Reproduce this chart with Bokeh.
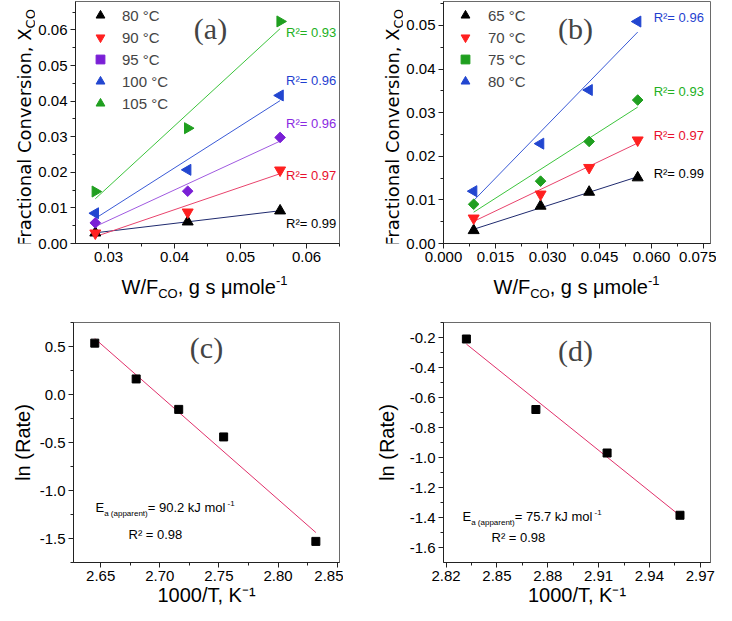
import numpy as np
from math import pi
from bokeh.plotting import figure
from bokeh.models import (Range1d, Label, Legend, LegendItem,
                          SingleIntervalTicker, NumeralTickFormatter)
from bokeh.layouts import row, column
from bokeh.embed import file_html
from bokeh.resources import INLINE

# ---------------- data ----------------
# panel (a)
wf_a = [0.028, 0.042, 0.056]
temps_a = ["80 °C", "90 °C", "95 °C", "100 °C", "105 °C"]
xco_a_80 = [0.0030, 0.0061, 0.0092]
xco_a_90 = [0.0029, 0.0088, 0.0206]
xco_a_95 = [0.0058, 0.0147, 0.0298]
xco_a_100 = [0.0085, 0.0207, 0.0416]
xco_a_105 = [0.0146, 0.0324, 0.0624]
r2_a = ["0.99", "0.97", "0.96", "0.96", "0.93"]

# panel (b)
wf_b = [0.0087, 0.028, 0.042, 0.056]
temps_b = ["65 °C", "70 °C", "75 °C", "80 °C"]
xco_b_65 = [0.0030, 0.0086, 0.0118, 0.0151]
xco_b_70 = [0.0058, 0.0113, 0.0174, 0.0237]
xco_b_75 = [0.0090, 0.0143, 0.0234, 0.0329]
xco_b_80 = [0.0120, 0.0229, 0.0352, 0.0509]
r2_b = ["0.99", "0.97", "0.93", "0.96"]

# panel (c)
inv_t_c = [2.645, 2.680, 2.716, 2.754, 2.832]
ln_rate_c = [0.535, 0.162, -0.155, -0.442, -1.530]
ea_c = "90.2"
r2_c = "0.98"

# panel (d)
inv_t_d = [2.832, 2.873, 2.915, 2.958]
ln_rate_d = [-0.21, -0.68, -0.97, -1.385]
ea_d = "75.7"
r2_d = "0.98"

# axis titles
ylab_main = "Fractional Conversion, X"
ysub = "CO"
xlab_rate = "1000/T, K⁻¹"
ylab_rate = "ln (Rate)"

# ---------------- styles ----------------
FONT = "Liberation Sans"
VFONT = "DejaVu Sans"      # font used for the rotated title pieces
SERIF = "Liberation Serif"
MID = 0.3465  # baseline lies this many em below the middle of the em box

mk_a = [("triangle", 0.0, 11), ("inverted_triangle", 0.0, 11), ("square", pi / 4, 7.5),
        ("triangle", pi / 2, 11), ("triangle", -pi / 2, 11)]
mcol_a = ["#000000", "#ff2020", "#7a1fd6", "#2246d0", "#1f9f1f"]
lcol_a = ["#1f2a6e", "#e8436c", "#a05ae0", "#3a5ad6", "#3cc43c"]
tcol_a = ["#000000", "#e8102e", "#8a2be2", "#1f3fd0", "#22b022"]
r2pos_a = [(0.0569, 0.0055), (0.0569, 0.0190), (0.0569, 0.0337),
           (0.0569, 0.0457), (0.0569, 0.0592)]

mk_b = [("triangle", 0.0, 11), ("inverted_triangle", 0.0, 11), ("square", pi / 4, 7.5),
        ("triangle", pi / 2, 11)]
mcol_b = ["#000000", "#ff2020", "#1f9f1f", "#2246d0"]
lcol_b = ["#1f2a6e", "#e8436c", "#3cc43c", "#3a5ad6"]
tcol_b = ["#000000", "#e8102e", "#22b022", "#1f3fd0"]
r2pos_b = [(0.0606, 0.0161), (0.0606, 0.0247), (0.0606, 0.0349), (0.0606, 0.0518)]

FIT_CD = "#e0306a"

# Arial / Liberation Sans advance widths (1/1000 em)
AW = {' ': 278, '(': 333, ')': 333, ',': 278, '-': 333, '.': 278, '/': 278, '=': 584,
      'A': 667, 'C': 722, 'E': 667, 'F': 611, 'J': 500, 'K': 667, 'O': 778, 'R': 722,
      'T': 611, 'W': 944, 'X': 667, 'a': 556, 'c': 500, 'd': 556, 'e': 556, 'g': 556,
      'i': 222, 'k': 500, 'l': 222, 'm': 833, 'n': 556, 'o': 556, 'p': 556, 'r': 333,
      's': 500, 't': 278, 'v': 500, 'μ': 576, '²': 333, '¹': 333, '°': 400}
for d in "0123456789":
    AW[d] = 556


def tw(s, fs):
    return sum(AW.get(ch, 556) for ch in s) * fs / 1000.0


def lab(p, text, x, y, fs, align="left", angle=0.0, units="screen", color="black",
        font=FONT):
    p.add_layout(Label(x=x, y=y, x_units=units, y_units=units, text=text, angle=angle,
                       text_align=align, text_baseline="middle", text_font=font,
                       text_font_size=f"{fs}px", text_color=color))


def rich(p, pieces, a, c, center=True, units="screen"):
    """Horizontal run of pieces (text, font px, baseline shift, extra advance).
    a = x of start (or centre), c = baseline y (y up)."""
    total = sum(tw(t, fs) + dx for t, fs, _, dx in pieces)
    pos = a - total / 2 if center else a
    for t, fs, sh, dx in pieces:
        pos += dx
        lab(p, t, pos, c + sh + MID * fs, fs, units=units)
        pos += tw(t, fs)


def make_fig(w, h, bl, br, bt, bb, xr, yr):
    p = figure(width=w, height=h, x_range=Range1d(*xr), y_range=Range1d(*yr),
               output_backend="svg", toolbar_location=None,
               min_border_left=bl, min_border_right=br,
               min_border_top=bt, min_border_bottom=bb)
    p.xgrid.visible = False
    p.ygrid.visible = False
    p.outline_line_color = "#6a6a6a"
    p.outline_line_width = 1
    p.background_fill_color = "white"
    p.border_fill_color = "white"
    for ax in (p.xaxis[0], p.yaxis[0]):
        ax.major_tick_in = 0
        ax.major_tick_out = 5
        ax.minor_tick_in = 0
        ax.minor_tick_out = 3
        ax.axis_line_color = "#222222"
        ax.major_tick_line_color = "#222222"
        ax.minor_tick_line_color = "#222222"
        ax.major_label_text_font = FONT
        ax.major_label_text_font_size = "15px"
        ax.major_label_text_color = "black"
        ax.major_label_standoff = 3
        ax.axis_label_text_font = FONT
        ax.axis_label_text_font_size = "20px"
        ax.axis_label_text_font_style = "normal"
        ax.axis_label_text_color = "black"
    return p


def strip(w, h):
    """Axis-free text strip: the frame is the whole figure, 1 data unit = 1 px."""
    s = figure(width=w, height=h, x_range=Range1d(0, w), y_range=Range1d(0, h),
               output_backend="svg", toolbar_location=None, min_border=0,
               x_axis_location=None, y_axis_location=None)
    s.xgrid.visible = False
    s.ygrid.visible = False
    s.outline_line_color = None
    s.background_fill_color = "white"
    s.border_fill_color = "white"
    return s


def set_ticks(p, xint, xfmt, yint, yfmt, xminor=2, yminor=2):
    p.xaxis.ticker = SingleIntervalTicker(interval=xint, num_minor_ticks=xminor)
    p.yaxis.ticker = SingleIntervalTicker(interval=yint, num_minor_ticks=yminor)
    p.xaxis.formatter = NumeralTickFormatter(format=xfmt)
    p.yaxis.formatter = NumeralTickFormatter(format=yfmt)


def fit_line(p, x, y, color):
    k, b = np.polyfit(x, y, 1)
    xs = [min(x), max(x)]
    p.line(xs, [k * v + b for v in xs], line_color=color, line_width=1)


def series_panel(p, xs, ys_list, names, mks, mcols, lcols, tcols, r2s, r2pos,
                 glyph_w, standoff):
    rends = []
    for ys, lc in zip(ys_list, lcols):
        fit_line(p, xs, ys, lc)
    for ys, (mk, ang, sz), mc in zip(ys_list, mks, mcols):
        r = p.scatter(xs, ys, marker=mk, angle=ang, size=sz, fill_color=mc,
                      line_color=mc)
        rends.append(r)
    for r2, (x, y), tc in zip(r2s, r2pos, tcols):
        p.add_layout(Label(x=x, y=y, text="R²= " + r2, text_font=FONT,
                           text_font_size="13px", text_color=tc,
                           text_baseline="middle", text_align="left"))
    legend = Legend(items=[LegendItem(label=n, renderers=[r]) for n, r in zip(names, rends)],
                    location="top_left", background_fill_alpha=0, border_line_alpha=0,
                    label_text_font=FONT, label_text_font_size="15px",
                    glyph_width=glyph_w, glyph_height=22, label_height=22,
                    label_standoff=standoff, spacing=0, padding=3, margin=0)
    p.add_layout(legend)


def panel_tag(p, text, x, y):
    p.add_layout(Label(x=x, y=y, x_units="screen", y_units="screen", text=text,
                       text_font=SERIF, text_font_size="30px", text_align="center",
                       text_baseline="middle"))


def y_title_strip(w, h, junction, baseline):
    """Vertical 'Fractional Conversion, X_CO': main text ends, subscript starts, at junction."""
    s = strip(w, h)
    lab(s, ylab_main, baseline - MID * 18, junction, 18, align="right", angle=pi / 2,
        units="data", font=VFONT)
    lab(s, ysub, baseline + 4.5 - MID * 13, junction, 13, align="left", angle=pi / 2,
        units="data", font=VFONT)
    return s


# ---------------- panel (a) ----------------
pa = make_fig(308, 270, 38, 4, 1, 27, (0.025, 0.065), (0.0, 0.068))
set_ticks(pa, 0.01, "0.00", 0.01, "0.00")
series_panel(pa, wf_a, [xco_a_80, xco_a_90, xco_a_95, xco_a_100, xco_a_105], temps_a,
             mk_a, mcol_a, lcol_a, tcol_a, r2_a, r2pos_a, 44, 0)
panel_tag(pa, "(a)", 135, 215)

# ---------------- panel (b) ----------------
pb = make_fig(313, 270, 40, 6, 1, 27, (0.0, 0.077), (0.0, 0.0555))
set_ticks(pb, 0.015, "0.000", 0.01, "0.00")
series_panel(pb, wf_b, [xco_b_65, xco_b_70, xco_b_75, xco_b_80], temps_b,
             mk_b, mcol_b, lcol_b, tcol_b, r2_b, r2pos_b, 38, 4)
panel_tag(pb, "(b)", 132, 215)

# ---------------- panel (c) ----------------
ea_pieces_c = [("E", 13, 0, 0), ("a (apparent)", 8, -4, 0),
               (" = " + ea_c + " kJ mol", 13, 0, 0), ("-1", 8, 6, -1.5)]
ea_pieces_d = [("E", 13, 0, 0), ("a (apparent)", 8, -4, 0),
               (" = " + ea_d + " kJ mol", 13, 0, 0), ("-1", 8, 6, -1.5)]

pc = make_fig(343, 302, 73, 4, 14, 48, (2.627, 2.852), (-1.75, 0.75))
set_ticks(pc, 0.05, "0.00", 0.5, "0.0")
pc.xaxis.axis_label = xlab_rate
pc.yaxis.axis_label = ylab_rate
pc.xaxis.axis_label_standoff = 0
pc.yaxis.axis_label_standoff = 3
fit_line(pc, inv_t_c, ln_rate_c, FIT_CD)
pc.scatter(inv_t_c, ln_rate_c, marker="square", size=8, fill_color="black", line_color="black")
panel_tag(pc, "(c)", 133, 215)
rich(pc, ea_pieces_c, 22, 50, center=False)
rich(pc, [("R² = " + r2_c, 13, 0, 0)], 55, 23, center=False)

# ---------------- panel (d) ----------------
pd_ = make_fig(373, 302, 100, 6, 14, 48, (2.8185, 2.976), (-1.7, -0.1))
set_ticks(pd_, 0.03, "0.00", 0.2, "0.0")
pd_.xaxis.axis_label = xlab_rate
pd_.yaxis.axis_label = ylab_rate
pd_.xaxis.axis_label_standoff = 0
pd_.yaxis.axis_label_standoff = 9
fit_line(pd_, inv_t_d, ln_rate_d, FIT_CD)
pd_.scatter(inv_t_d, ln_rate_d, marker="square", size=8, fill_color="black", line_color="black")
panel_tag(pd_, "(d)", 132, 212)
rich(pd_, ea_pieces_d, 19, 41, center=False)
rich(pd_, [("R² = " + r2_d, 13, 0, 0)], 48, 20, center=False)

# ---------------- axis-title strips for (a), (b) ----------------
xlab_wf = [("W/F", 20, 0, 0), ("CO", 13, -5, 0), (", g s μmole", 20, 0, 0), ("-1", 13, 8, 0)]

ya = y_title_strip(35, 270, 240, 30)
yb = y_title_strip(60, 270, 240, 55)
xab = strip(716, 38)
rich(xab, xlab_wf, 204, 15, units="data")
rich(xab, xlab_wf, 576, 15, units="data")

layout = column(row(ya, pa, yb, pb), xab, row(pc, pd_))
open("out.html", "w").write(file_html(layout, INLINE))
